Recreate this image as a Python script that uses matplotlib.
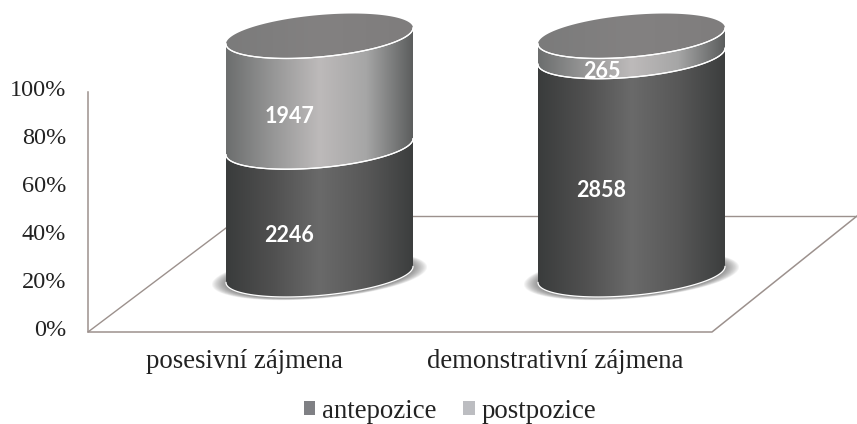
import numpy as np
import matplotlib
matplotlib.use('Agg')
import matplotlib.pyplot as plt
from matplotlib.colors import LinearSegmentedColormap
from matplotlib.patches import Polygon, Patch

# Data
kategorie = ['posesivní zájmena', 'demonstrativní zájmena']
antepozice = [2246, 2858]
postpozice = [1947, 265]
y_ticks = [0, 20, 40, 60, 80, 100]

serif = 'Liberation Serif'
sans = 'Lato'

# one unit on x = distance between the cylinders, y in percent
W, H = 857, 424
px_x = 312.0
px_y = 2.385
x0_px, y0_px = 319.5, 274.5

a = 93.5 / px_x        # half width of cylinder
b = 21.0 / px_y        # ellipse half height
s = 8.0 / px_y         # tilt of the ellipses

dark = LinearSegmentedColormap.from_list('dark', ['#3a3c3c', '#505050', '#6a6a6a', '#585858', '#3c3e3e'])
light = LinearSegmentedColormap.from_list('light', ['#6c6e6e', '#969696', '#bdbaba', '#a6a6a6', '#5c5e5e'])
top = LinearSegmentedColormap.from_list('top', ['#7b7b7b', '#838181', '#7f7d7d'])

fig = plt.figure(figsize=(W / 100, H / 100), dpi=100)
ax = fig.add_axes([0, 0, 1, 1])
ax.set_xlim(-x0_px / px_x, (W - x0_px) / px_x)
ax.set_ylim(-(H - y0_px) / px_y, y0_px / px_y)
ax.axis('off')
xlim, ylim = ax.get_xlim(), ax.get_ylim()


def xpx(p):
    return (p - x0_px) / px_x


def ypx(p):
    return (y0_px - p) / px_y


def arc(cx, y, t):
    return cx + a * np.cos(t), y + b * np.sin(t) + s * np.cos(t)


def fill(cx, xy, cmap, ylo, yhi):
    g = np.linspace(0, 1, 256).reshape(1, -1)
    im = ax.imshow(g, cmap=cmap, extent=[cx - a, cx + a, ylo, yhi], aspect='auto',
                   zorder=4, interpolation='bilinear')
    im.set_clip_path(Polygon(xy, closed=True, transform=ax.transData))


# Walls and floor
wall_col = '#9c918d'
ax.plot([xpx(88), xpx(88), xpx(712), xpx(857)], [ypx(92), ypx(332), ypx(332), ypx(216)],
        color=wall_col, lw=1.1, zorder=1)
ax.plot([xpx(88), xpx(226)], [ypx(332), ypx(228)], color=wall_col, lw=1.0, zorder=1)
ax.plot([xpx(413), xpx(857)], [ypx(216), ypx(216)], color=wall_col, lw=1.0, zorder=1)

# Tick labels sit on the wall
for t in y_ticks:
    ax.text(xpx(66), ypx(331 - t * 2.4), '%d%%' % t, ha='right', va='center',
            fontsize=17.5, family=serif, color='#222222')

t_all = np.linspace(0, 2 * np.pi, 200)
t_front = np.linspace(np.pi, 2 * np.pi, 100)

for i in range(len(kategorie)):
    cx = float(i)
    total = antepozice[i] + postpozice[i]
    split = antepozice[i] / total * 100

    # shadow under the cylinder
    for k in np.linspace(1.15, 1.0, 14):
        sx, sy = arc(cx, -0.5, t_all)
        sx = cx + (sx - cx) * k
        sy = -0.5 + (sy + 0.5) * (1 + (k - 1) * 0.6)
        ax.fill(sx, sy, color='#505050', alpha=0.06, lw=0, zorder=2)

    # segments, bottom up
    for lo, hi, cmap in [(0, split, dark), (split, 100, light)]:
        xb, yb = arc(cx, lo, t_front)
        xt, yt = arc(cx, hi, t_front)
        xy = np.column_stack([np.r_[xb, xt[::-1]], np.r_[yb, yt[::-1]]])
        fill(cx, xy, cmap, lo - b - s - 1, hi + b + s + 1)
        ax.plot(xb, yb, color='white', lw=0.9, zorder=5)
        ax.plot(xt, yt, color='white', lw=0.9, zorder=5)

    # top ellipse
    xt, yt = arc(cx, 100, t_all)
    fill(cx, np.column_stack([xt, yt]), top, 100 - b - s - 1, 100 + b + s + 1)
    xt, yt = arc(cx, 100, t_front)
    ax.plot(xt, yt, color='white', lw=0.9, zorder=5)

    # data labels
    lx = cx - 30.0 / px_x
    off = 25.0 / px_y
    ax.text(lx, split / 2 - off, str(antepozice[i]), color='white', family=sans, weight='bold',
            fontsize=15.5, ha='center', va='center', zorder=6)
    ax.text(lx, (split + 100) / 2 - off, str(postpozice[i]), color='white', family=sans, weight='bold',
            fontsize=15.5, ha='center', va='center', zorder=6)

    # category labels
    ax.text(xpx(244 + i * 311), ypx(362), kategorie[i], ha='center', va='center',
            fontsize=19.3, family=serif, color='#222222')

ax.set_xlim(xlim)
ax.set_ylim(ylim)

# Legend
handles = [Patch(facecolor='#7f8084', label='antepozice'), Patch(facecolor='#bcbdc1', label='postpozice')]
fig.legend(handles=handles, loc='center', bbox_to_anchor=(450 / W, 1 - 411 / H), ncol=2, frameon=False,
           prop={'family': serif, 'size': 19.3}, labelcolor='#222222', handlelength=0.44, handleheight=0.44,
           handletextpad=0.25, columnspacing=1.0, borderpad=0)

fig.savefig('out.png', dpi=100)
